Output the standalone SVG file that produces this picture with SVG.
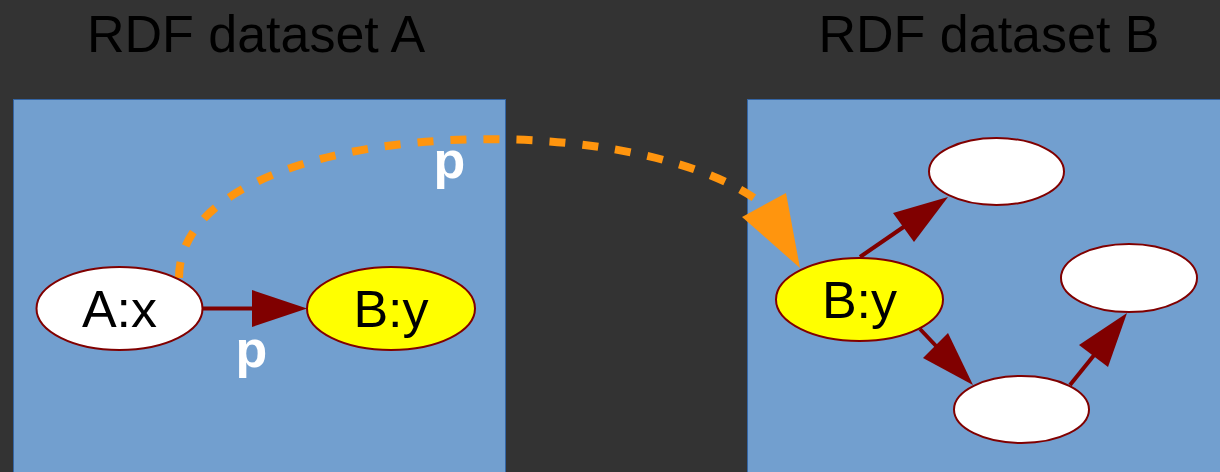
<svg xmlns="http://www.w3.org/2000/svg" width="1220" height="472" viewBox="0 0 1220 472">
<style>
.panel{fill:#729fcf;stroke:#3465a4;stroke-width:1}
.title{font-family:"Liberation Sans",Arial,sans-serif;font-size:52px;fill:#000}
.node{stroke:#800000;stroke-width:2}
.white{fill:#ffffff}
.yellow{fill:#ffff00}
.nlabel{font-family:"Liberation Sans",Arial,sans-serif;font-size:52px;fill:#000;text-anchor:middle}
.elabel{font-family:"Liberation Sans",Arial,sans-serif;font-size:52px;font-weight:bold;fill:#ffffff;text-anchor:middle}
.edge{stroke:#800000;stroke-width:4;fill:none}
.head{fill:#800000}
.link{stroke:#ff950e;stroke-width:8;fill:none;stroke-dasharray:16 17}
.linkhead{fill:#ff950e}
</style>
<rect x="0" y="0" width="1220" height="472" fill="#333333"/>
<g id="datasetA">
<rect class="panel" x="13.5" y="99.5" width="492" height="380"/>
<text class="title" x="256" y="52" text-anchor="middle">RDF dataset A</text>
</g>
<g id="datasetB">
<rect class="panel" x="747.5" y="99.5" width="480" height="380"/>
<text class="title" x="989" y="52" text-anchor="middle">RDF dataset B</text>
</g>
<g id="connectors">
<line class="edge" x1="203" y1="308.5" x2="254" y2="308.5"/>
<polygon class="head" points="252,290 307,308.5 252,327"/>
<text class="elabel" x="251.5" y="367">p</text>
<line class="edge" x1="860" y1="257" x2="905" y2="226"/>
<polygon class="head" points="893,213 948,197 914,242"/>
<line class="edge" x1="920" y1="329" x2="937" y2="347"/>
<polygon class="head" points="923,358 973,385 948,333"/>
<line class="edge" x1="1070" y1="385" x2="1095" y2="354"/>
<polygon class="head" points="1079,345 1127,313 1108,367"/>
<path class="link" d="M179,278 C179,120 620,100 760,202"/>
<polygon class="linkhead" points="742,217 786,193 800,268"/>
<text class="elabel" x="449.5" y="178">p</text>
</g>
<g id="nodeAx">
<ellipse class="node white" cx="119.5" cy="308.5" rx="83" ry="41.5"/>
<text class="nlabel" x="119.5" y="327">A:x</text>
</g>
<g id="nodeByA">
<ellipse class="node yellow" cx="391" cy="308.5" rx="84" ry="41.5"/>
<text class="nlabel" x="391" y="327">B:y</text>
</g>
<g id="nodeByB">
<ellipse class="node yellow" cx="859.5" cy="299.5" rx="83.5" ry="41.5"/>
<text class="nlabel" x="859.5" y="318">B:y</text>
</g>
<g id="nodeTop">
<ellipse class="node white" cx="996.5" cy="171.5" rx="67.5" ry="33.5"/>
</g>
<g id="nodeRight">
<ellipse class="node white" cx="1129" cy="278" rx="68" ry="34"/>
</g>
<g id="nodeBottom">
<ellipse class="node white" cx="1021.5" cy="409.5" rx="67.5" ry="33.5"/>
</g>
</svg>
